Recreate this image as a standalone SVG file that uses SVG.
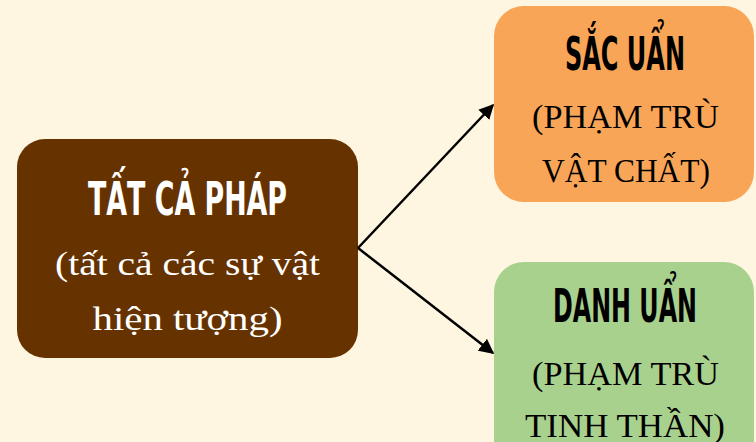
<svg xmlns="http://www.w3.org/2000/svg" width="756" height="442" viewBox="0 0 756 442">
<defs>
<style>
.title{font-family:"Liberation Sans Narrow","DejaVu Sans Condensed","Liberation Sans",sans-serif;font-weight:bold;font-size:47px;text-anchor:middle}
.cap{font-family:"Liberation Serif","DejaVu Serif",serif;font-size:34px;text-anchor:middle}
.conn{stroke:#000;stroke-width:2.5;fill:none;marker-end:url(#ah)}
</style>
<marker id="ah" viewBox="0 0 10 10" refX="9" refY="5" markerWidth="6" markerHeight="6" markerUnits="strokeWidth" orient="auto">
<path d="M0,0 L10,5 L0,10 z" fill="#000"/>
</marker>
</defs>
<rect width="756" height="442" fill="#FFF6E1"/>
<g id="node-all">
<rect x="17" y="139" width="341" height="219" rx="28" fill="#663300"/>
<text class="title" x="187.5" y="215" fill="#fff" textLength="199" lengthAdjust="spacingAndGlyphs">TẤT CẢ PHÁP</text>
<text class="cap" x="187.5" y="275" fill="#fff" textLength="265" lengthAdjust="spacingAndGlyphs">(tất cả các sự vật</text>
<text class="cap" x="187.5" y="330" fill="#fff" textLength="190" lengthAdjust="spacingAndGlyphs">hiện tượng)</text>
</g>
<g id="node-sac">
<rect x="494" y="6" width="260" height="196" rx="30" fill="#F9A557"/>
<text class="title" x="625" y="70" fill="#000" textLength="120" lengthAdjust="spacingAndGlyphs">SẮC UẨN</text>
<text class="cap" x="625.5" y="128" fill="#000" textLength="187" lengthAdjust="spacingAndGlyphs">(PHẠM TRÙ</text>
<text class="cap" x="626" y="182" fill="#000" textLength="168" lengthAdjust="spacingAndGlyphs">VẬT CHẤT)</text>
</g>
<g id="node-danh">
<rect x="494" y="262" width="260" height="220" rx="30" fill="#A9D18E"/>
<text class="title" x="625" y="322" fill="#000" textLength="144" lengthAdjust="spacingAndGlyphs">DANH UẨN</text>
<text class="cap" x="625.5" y="385" fill="#000" textLength="187" lengthAdjust="spacingAndGlyphs">(PHẠM TRÙ</text>
<text class="cap" x="625" y="437" fill="#000" textLength="200" lengthAdjust="spacingAndGlyphs">TINH THẦN)</text>
</g>
<g id="connectors">
<path class="conn" d="M358,248 L493,105"/>
<path class="conn" d="M358,248 L493,353"/>
</g>
</svg>
